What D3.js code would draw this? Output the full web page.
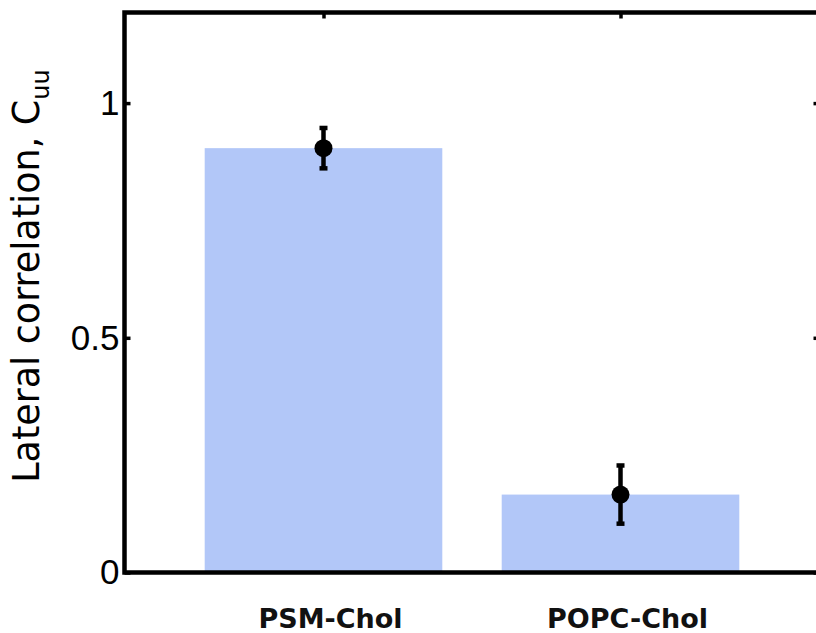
<!DOCTYPE html>
<html>
<head>
<meta charset="utf-8">
<script src="https://cdn.jsdelivr.net/npm/d3@7"></script>
<style>
  html, body { margin: 0; padding: 0; background: #fff; }
  svg { display: block; }
</style>
</head>
<body>
<svg id="chart" width="816" height="633"></svg>
<script>
// Lateral correlation per lipid mixture
const categories = ["PSM-Chol", "POPC-Chol"];
const means = [0.904, 0.166];
const errors = [0.043, 0.062];
const yTicks = [0, 0.5, 1];
const yTickLabels = ["0", "0.5", "1"];

const svg = d3.select("#chart");

const x = d3.scaleLinear().domain([0.33, 2.67]).range([124.5, 819.5]);
const y = d3.scaleLinear().domain([0, 1.193]).range([572.5, 12.5]);
const barWidth = 0.8;
const barColor = "#b2c7f8";

// bars
svg.append("g").selectAll("rect")
  .data(means)
  .join("rect")
  .attr("x", (d, i) => x(i + 1 - barWidth / 2))
  .attr("width", x(1 + barWidth) - x(1))
  .attr("y", d => y(d))
  .attr("height", d => y(0) - y(d))
  .attr("fill", barColor);

// error bars
const eb = svg.append("g").attr("stroke", "#000").attr("fill", "#000");
means.forEach((m, i) => {
  const cx = x(i + 1);
  eb.append("line")
    .attr("x1", cx).attr("x2", cx)
    .attr("y1", y(m - errors[i])).attr("y2", y(m + errors[i]))
    .attr("stroke-width", 4.5);
  [m - errors[i], m + errors[i]].forEach(v => {
    eb.append("line")
      .attr("x1", cx - 4).attr("x2", cx + 4)
      .attr("y1", y(v)).attr("y2", y(v))
      .attr("stroke-width", 4.5);
  });
  eb.append("circle")
    .attr("cx", cx).attr("cy", y(m)).attr("r", 9)
    .attr("stroke", "none");
});

// axes box
const axisG = svg.append("g");
const yLeft = d3.axisLeft(y).tickValues(yTicks).tickFormat((d, i) => yTickLabels[i])
  .tickSizeInner(-6).tickSizeOuter(0).tickPadding(5);
const gl = axisG.append("g").attr("transform", `translate(${x.range()[0]},0)`).call(yLeft);
gl.select(".domain").remove();
gl.selectAll(".tick line").attr("stroke", "#000").attr("stroke-width", 3.5);
gl.selectAll(".tick text")
  .attr("font-family", "Liberation Sans, Arial, sans-serif")
  .attr("font-size", 35).attr("fill", "#000");

const yRight = d3.axisRight(y).tickValues(yTicks).tickFormat("").tickSizeInner(-6).tickSizeOuter(0);
const gr = axisG.append("g").attr("transform", `translate(${x.range()[1]},0)`).call(yRight);
gr.select(".domain").remove();
gr.selectAll(".tick line").attr("stroke", "#000").attr("stroke-width", 3.5);

const xTop = d3.axisTop(x).tickValues([1, 2]).tickFormat("").tickSizeInner(-6).tickSizeOuter(0);
const gt = axisG.append("g").attr("transform", `translate(0,${y.range()[1]})`).call(xTop);
gt.select(".domain").remove();
gt.selectAll(".tick line").attr("stroke", "#000").attr("stroke-width", 3.5);

// frame lines
const [x0, x1] = x.range();
const [yb, yt] = y.range();
axisG.append("path")
  .attr("d", `M${x0},${yb}L${x0},${yt}L${x1},${yt}L${x1},${yb}Z`)
  .attr("fill", "none").attr("stroke", "#000").attr("stroke-width", 4.5)
  .attr("stroke-linejoin", "miter");

// category labels
svg.append("g").selectAll("text")
  .data(categories)
  .join("text")
  .attr("x", (d, i) => x(i + 1) + 7)
  .attr("y", 628)
  .attr("text-anchor", "middle")
  .attr("font-family", "DejaVu Sans, sans-serif")
  .attr("font-weight", "bold")
  .attr("font-size", 27)
  .attr("fill", "#111")
  .text(d => d);

// y-axis title
const title = svg.append("text")
  .attr("transform", `translate(39,${(490 + 62) / 2}) rotate(-90)`)
  .attr("text-anchor", "middle")
  .attr("font-family", "DejaVu Sans, sans-serif")
  .attr("font-size", 36.5)
  .attr("fill", "#000");
title.append("tspan").text("Lateral correlation, C");
title.append("tspan").attr("font-size", 24).attr("dy", 10).text("uu");
</script>
</body>
</html>
